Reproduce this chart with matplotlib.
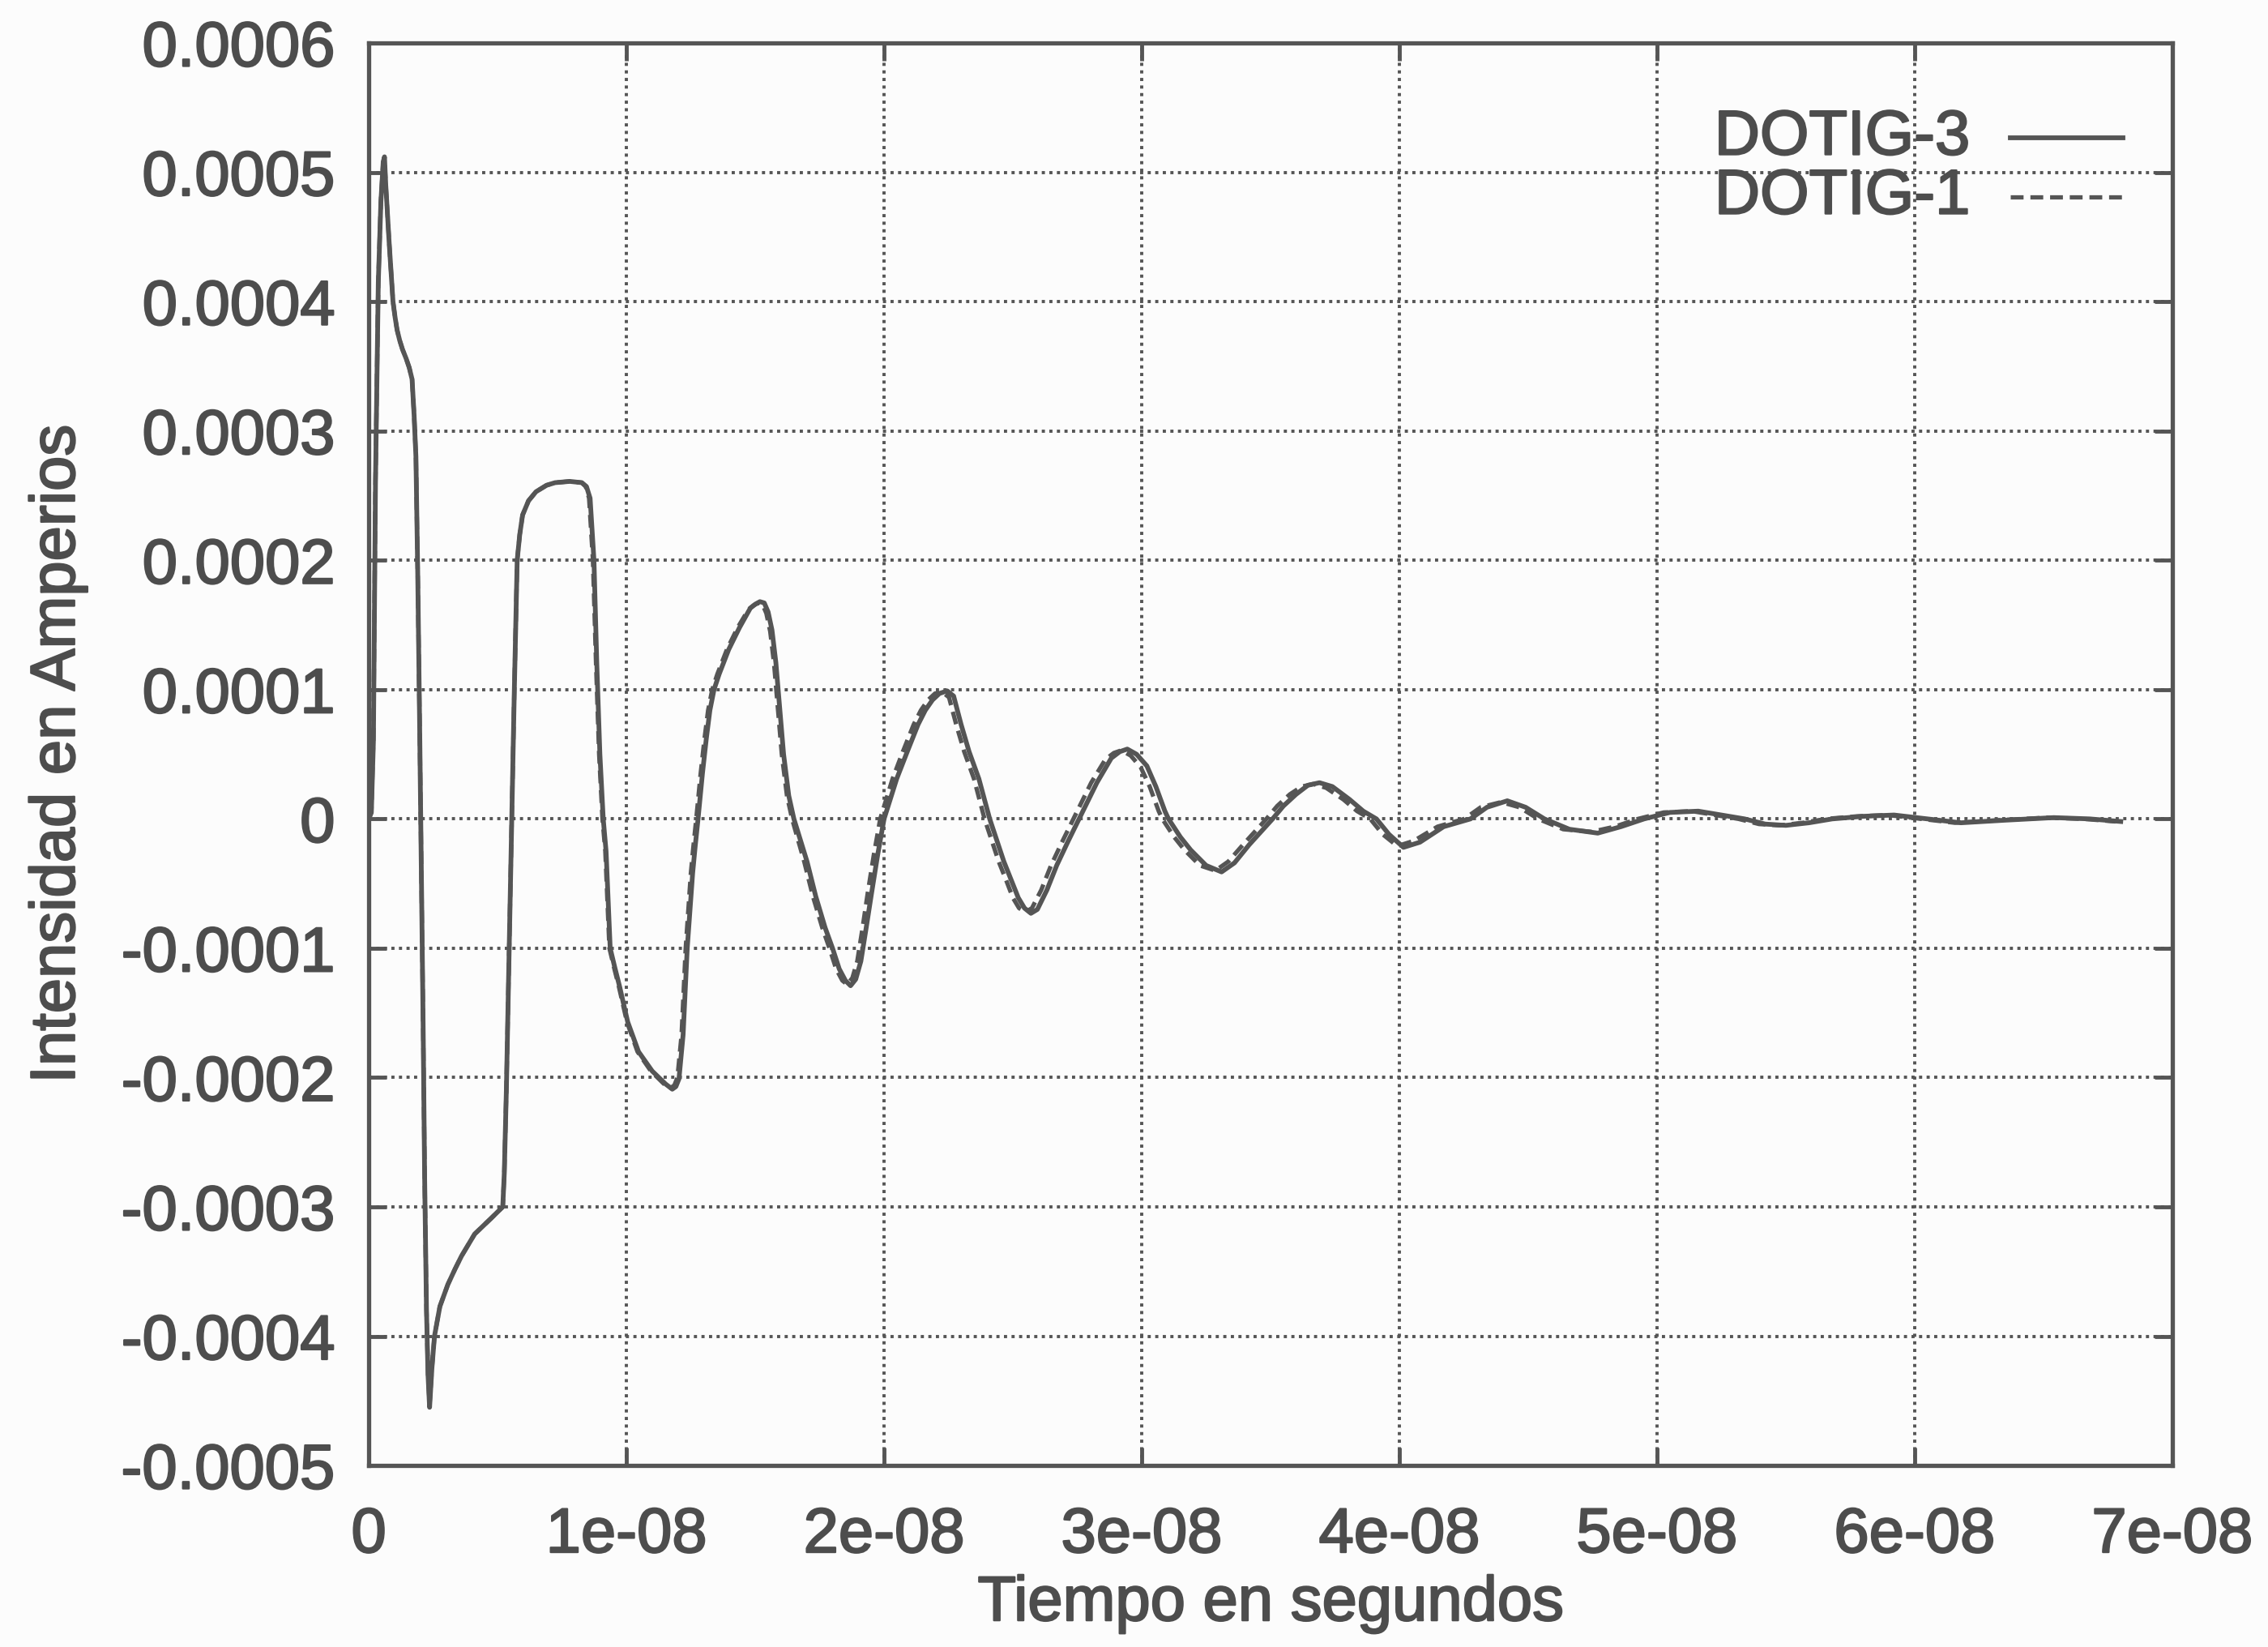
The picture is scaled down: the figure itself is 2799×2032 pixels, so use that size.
"""Corriente inducida: DOTIG-3 vs DOTIG-1 (estilo gnuplot escaneado)."""
import matplotlib
matplotlib.use('Agg')
import matplotlib.pyplot as plt
import matplotlib.patheffects as pe
import numpy as np

# --- datos (tiempo en ns, intensidad en 1e-4 A) ---
t_dotig3 = [0.00, 0.10, 0.18, 0.26, 0.37, 0.47, 0.56, 0.61, 0.66, 0.72,
            0.79, 0.87, 0.94, 1.02, 1.10, 1.20, 1.31, 1.45, 1.57, 1.68,
            1.76, 1.83, 1.90, 1.97, 2.04, 2.11, 2.17, 2.24, 2.30, 2.36,
            2.45, 2.55, 2.76, 3.07, 3.35, 3.60, 4.11, 4.74, 5.10, 5.20,
            5.26, 5.34, 5.45, 5.55, 5.65, 5.76, 5.86, 5.97, 6.20, 6.49,
            6.90, 7.23, 7.80, 8.27, 8.45, 8.59, 8.74, 8.85, 8.97, 9.10,
            9.21, 9.37, 9.55, 9.74, 10.05, 10.47, 11.00, 11.52, 11.78, 11.92,
            12.04, 12.20, 12.36, 12.57, 12.67, 12.78, 12.95, 13.10, 13.24, 13.40,
            13.60, 13.97, 14.39, 14.81, 15.00, 15.18, 15.35, 15.50, 15.65, 15.80,
            15.96, 16.10, 16.30, 16.50, 17.01, 17.35, 17.71, 18.00, 18.26, 18.50,
            18.70, 18.90, 19.10, 19.30, 19.51, 19.75, 20.00, 20.49, 20.90, 21.32,
            21.60, 21.88, 22.15, 22.45, 22.70, 22.99, 23.30, 23.68, 24.10, 24.65,
            24.95, 25.21, 25.45, 25.70, 25.95, 26.32, 26.70, 27.15, 27.57, 28.26,
            28.82, 29.15, 29.44, 29.80, 30.20, 30.55, 30.90, 31.04, 31.50, 31.90,
            32.50, 33.10, 33.60, 34.17, 35.08, 35.50, 35.99, 36.45, 36.90, 37.40,
            38.07, 38.60, 39.11, 39.60, 40.16, 40.80, 41.72, 42.76, 43.40, 44.19,
            44.90, 45.63, 46.60, 47.70, 48.60, 49.50, 50.50, 51.60, 52.50, 53.40,
            54.20, 55.00, 55.90, 56.80, 58.00, 59.20, 60.50, 61.80, 63.50, 65.40,
            66.80, 68.00]
i_dotig3 = [0.00, 0.05, 0.60, 2.60, 4.15, 4.77, 5.08, 5.12, 4.90, 4.70,
            4.46, 4.22, 4.00, 3.88, 3.78, 3.70, 3.63, 3.56, 3.49, 3.40,
            3.12, 2.80, 1.90, 0.80, -0.40, -1.60, -2.80, -3.80, -4.30, -4.55,
            -4.25, -4.00, -3.77, -3.60, -3.48, -3.38, -3.21, -3.09, -3.02, -3.00,
            -2.74, -2.10, -1.00, 0.00, 1.00, 2.00, 2.20, 2.35, 2.46, 2.53,
            2.58, 2.60, 2.61, 2.60, 2.57, 2.48, 2.00, 1.20, 0.50, 0.00,
            -0.25, -1.00, -1.15, -1.30, -1.57, -1.80, -1.95, -2.05, -2.09, -2.07,
            -2.01, -1.67, -1.00, -0.42, -0.21, 0.00, 0.35, 0.62, 0.84, 1.00,
            1.12, 1.31, 1.48, 1.63, 1.66, 1.68, 1.67, 1.60, 1.46, 1.21,
            0.83, 0.50, 0.18, 0.00, -0.33, -0.60, -0.84, -1.00, -1.16, -1.25,
            -1.29, -1.24, -1.10, -0.85, -0.58, -0.28, 0.00, 0.31, 0.52, 0.73,
            0.84, 0.92, 0.97, 0.99, 0.95, 0.73, 0.52, 0.31, 0.00, -0.33,
            -0.48, -0.61, -0.69, -0.73, -0.70, -0.55, -0.36, -0.17, 0.00, 0.28,
            0.47, 0.52, 0.54, 0.50, 0.41, 0.25, 0.06, 0.00, -0.14, -0.24,
            -0.36, -0.41, -0.34, -0.20, 0.00, 0.10, 0.19, 0.26, 0.28, 0.25,
            0.15, 0.06, 0.00, -0.12, -0.22, -0.18, -0.06, 0.00, 0.09, 0.14,
            0.09, 0.00, -0.08, -0.11, -0.06, 0.00, 0.05, 0.06, 0.03, 0.00,
            -0.04, -0.05, -0.03, 0.00, 0.02, 0.03, 0.00, -0.03, -0.01, 0.01,
            0.00, -0.02]

t_dotig1 = [0.00, 0.10, 0.18, 0.26, 0.37, 0.47, 0.56, 0.61, 0.66, 0.72,
            0.79, 0.87, 0.94, 1.02, 1.10, 1.20, 1.31, 1.45, 1.57, 1.68,
            1.76, 1.83, 1.90, 1.97, 2.04, 2.11, 2.17, 2.24, 2.30, 2.36,
            2.45, 2.55, 2.76, 3.07, 3.35, 3.60, 4.11, 4.74, 5.10, 5.20,
            5.26, 5.34, 5.45, 5.55, 5.65, 5.76, 5.86, 5.97, 6.20, 6.49,
            6.90, 7.23, 7.80, 8.27, 8.42, 8.55, 8.70, 8.82, 8.94, 9.07,
            9.18, 9.34, 9.52, 9.71, 10.02, 10.43, 10.95, 11.46, 11.72, 11.86,
            11.98, 12.14, 12.30, 12.50, 12.60, 12.71, 12.88, 13.03, 13.17, 13.33,
            13.53, 13.90, 14.32, 14.74, 14.93, 15.11, 15.28, 15.43, 15.58, 15.73,
            15.89, 16.03, 16.23, 16.43, 16.90, 17.24, 17.60, 17.88, 18.14, 18.38,
            18.57, 18.77, 18.96, 19.16, 19.36, 19.60, 19.85, 20.33, 20.73, 21.15,
            21.43, 21.71, 21.98, 22.27, 22.52, 22.80, 23.11, 23.49, 23.90, 24.45,
            24.75, 25.00, 25.24, 25.49, 25.74, 26.10, 26.48, 26.93, 27.35, 28.04,
            28.59, 28.92, 29.21, 29.57, 29.96, 30.31, 30.66, 30.80, 31.26, 31.66,
            32.26, 32.86, 33.36, 33.93, 34.84, 35.26, 35.75, 36.21, 36.66, 37.16,
            37.83, 38.36, 38.87, 39.36, 39.92, 40.56, 41.48, 42.52, 43.16, 43.95,
            44.66, 45.39, 46.36, 47.46, 48.36, 49.26, 50.26, 51.36, 52.26, 53.16,
            53.96, 54.76, 55.66, 56.56, 57.76, 58.96, 60.26, 61.56, 63.26, 65.16,
            66.56, 67.80]
i_dotig1 = [0.00, 0.05, 0.62, 2.62, 4.16, 4.78, 5.08, 5.11, 4.90, 4.70,
            4.46, 4.22, 4.00, 3.88, 3.78, 3.70, 3.63, 3.56, 3.49, 3.40,
            3.12, 2.80, 1.90, 0.80, -0.40, -1.60, -2.80, -3.80, -4.30, -4.53,
            -4.25, -4.00, -3.77, -3.60, -3.48, -3.38, -3.21, -3.09, -3.02, -3.00,
            -2.74, -2.10, -1.00, 0.00, 1.00, 2.00, 2.20, 2.35, 2.46, 2.53,
            2.58, 2.60, 2.61, 2.60, 2.57, 2.48, 2.00, 1.20, 0.50, 0.00,
            -0.25, -1.00, -1.15, -1.30, -1.57, -1.80, -1.95, -2.05, -2.08, -2.06,
            -2.00, -1.67, -1.00, -0.42, -0.21, 0.00, 0.35, 0.62, 0.84, 1.00,
            1.12, 1.31, 1.48, 1.62, 1.65, 1.67, 1.66, 1.59, 1.45, 1.20,
            0.83, 0.50, 0.18, 0.00, -0.33, -0.60, -0.84, -1.00, -1.16, -1.25,
            -1.28, -1.23, -1.10, -0.85, -0.58, -0.28, 0.00, 0.31, 0.52, 0.73,
            0.84, 0.92, 0.97, 0.98, 0.94, 0.73, 0.52, 0.31, 0.00, -0.33,
            -0.48, -0.61, -0.69, -0.72, -0.69, -0.55, -0.36, -0.17, 0.00, 0.28,
            0.46, 0.51, 0.53, 0.49, 0.40, 0.25, 0.06, 0.00, -0.14, -0.24,
            -0.36, -0.40, -0.33, -0.20, 0.00, 0.10, 0.19, 0.25, 0.27, 0.24,
            0.15, 0.06, 0.00, -0.12, -0.21, -0.17, -0.06, 0.00, 0.09, 0.13,
            0.09, 0.00, -0.08, -0.10, -0.06, 0.00, 0.05, 0.06, 0.03, 0.00,
            -0.04, -0.05, -0.03, 0.00, 0.02, 0.03, 0.00, -0.03, -0.01, 0.01,
            0.00, -0.02]

x_ticks = [0, 1e-08, 2e-08, 3e-08, 4e-08, 5e-08, 6e-08, 7e-08]
x_ticklabels = ['0', '1e-08', '2e-08', '3e-08', '4e-08', '5e-08', '6e-08', '7e-08']
y_ticks = [0.0006, 0.0005, 0.0004, 0.0003, 0.0002, 0.0001, 0.0,
           -0.0001, -0.0002, -0.0003, -0.0004, -0.0005]
y_ticklabels = ['0.0006', '0.0005', '0.0004', '0.0003', '0.0002', '0.0001', '0',
                '-0.0001', '-0.0002', '-0.0003', '-0.0004', '-0.0005']
series_labels = ['DOTIG-3', 'DOTIG-1']

INK = '#555555'
TXT = '#4d4d4d'
FS = 56
DASH = (0, (3, 1.6))
heavy = [pe.withStroke(linewidth=1.6, foreground=TXT)]  # trazo algo grueso, como el escaneo

plt.rcParams['font.family'] = ['Liberation Sans', 'DejaVu Sans']

fig = plt.figure(figsize=(27.99, 20.32), dpi=100, facecolor='#fcfcfc')
ax = fig.add_axes([0.1626, 0.1102, 0.7952, 0.8637])
ax.set_facecolor('#fcfcfc')

# conversión ns -> s y 1e-4 A -> A
t3 = np.array(t_dotig3) * 1e-9
i3 = np.array(i_dotig3) * 1e-4
t1 = np.array(t_dotig1) * 1e-9
i1 = np.array(i_dotig1) * 1e-4

ax.plot(t3, i3, color=INK, lw=4.2, solid_joinstyle='round', zorder=3)
ax.plot(t1, i1, color=INK, lw=3.8, ls=DASH, zorder=4)

ax.set_xlim(0, 7e-08)
ax.set_ylim(-0.0005, 0.0006)
ax.set_xticks(x_ticks)
ax.set_xticklabels(x_ticklabels)
ax.set_yticks(y_ticks)
ax.set_yticklabels(y_ticklabels)

ax.grid(True, color=INK, ls=(0, (1.0, 1.4)), lw=2.8)
ax.tick_params(direction='in', length=16, width=3.5, colors=INK, labelcolor=TXT,
               labelsize=FS, top=True, right=True, pad=30)
ax.tick_params(axis='x', pad=36)
for lab in ax.get_xticklabels() + ax.get_yticklabels():
    lab.set_path_effects(heavy)
for sp in ax.spines.values():
    sp.set_color(INK)
    sp.set_linewidth(3.8)

ax.set_xlabel('Tiempo en segundos', fontsize=FS, color=TXT, labelpad=8,
              path_effects=heavy)
ax.set_ylabel('Intensidad en Amperios', fontsize=FS, color=TXT, labelpad=30,
              path_effects=heavy)

# leyenda estilo gnuplot: texto a la derecha y muestra de línea
for k, (lab, fy) in enumerate(zip(series_labels, [0.9333, 0.8917])):
    ax.text(0.8877, fy, lab, transform=ax.transAxes, ha='right', va='center',
            fontsize=FS, color=TXT, zorder=5, path_effects=heavy)
    ax.plot([0.910, 0.9726], [fy, fy], transform=ax.transAxes, color=INK,
            lw=4.2 if k == 0 else 3.8, ls='-' if k == 0 else DASH)

fig.savefig('out.png', dpi=100, facecolor=fig.get_facecolor())
